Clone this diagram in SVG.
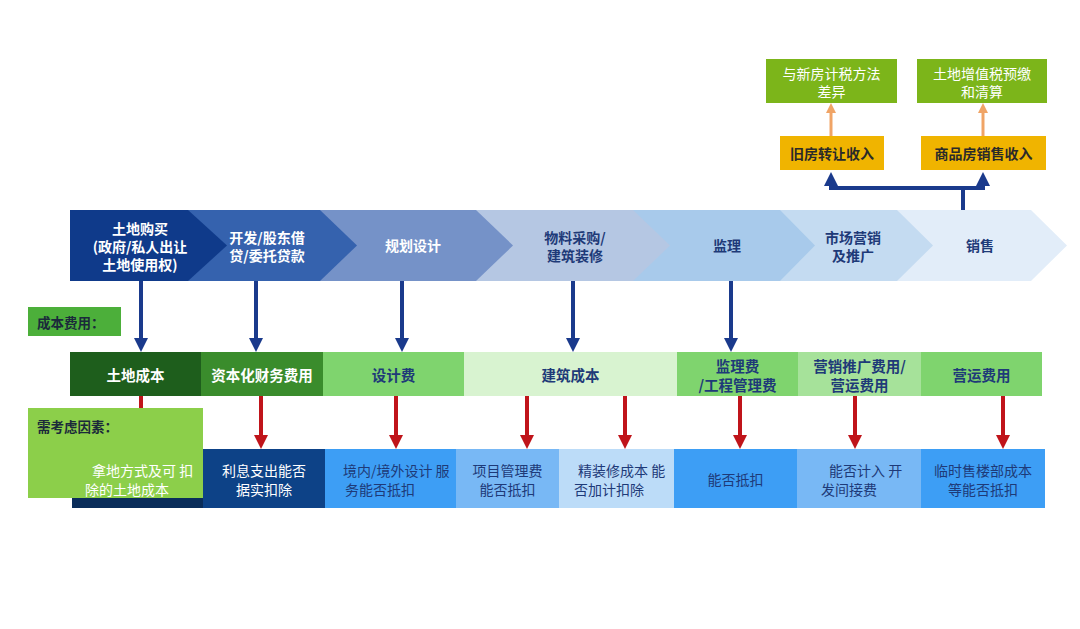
<svg xmlns="http://www.w3.org/2000/svg" width="1080" height="629" viewBox="0 0 1080 629">
<style>
text{font-family:"Noto Sans CJK SC","Noto Sans",sans-serif;}
.ch{font-size:14px;font-weight:700;text-anchor:middle;dominant-baseline:central;}
.w{fill:#ffffff;}
.n{fill:#1e3a78;}
.cost{font-size:14.5px;font-weight:700;text-anchor:middle;dominant-baseline:central;}
.bt{font-size:14px;dominant-baseline:central;}
.mid{text-anchor:middle;}
.lab{font-size:13.5px;font-weight:700;fill:#1b2a3a;dominant-baseline:central;}
.top{font-size:14px;text-anchor:middle;dominant-baseline:central;}
.blue{stroke:#1a3a8c;stroke-width:4;fill:none;}
.red{stroke:#c0141a;stroke-width:4;fill:none;}
.org{stroke:#f0a466;stroke-width:3;fill:none;}
</style>
<defs>
<marker id="ab" viewBox="0 0 14 14" refX="6" refY="7" markerWidth="14" markerHeight="14" markerUnits="userSpaceOnUse" orient="auto-start-reverse"><path d="M0,0 L14,7 L0,14 z" fill="#1a3a8c"/></marker>
<marker id="ar" viewBox="0 0 14 14" refX="6" refY="7" markerWidth="14" markerHeight="14" markerUnits="userSpaceOnUse" orient="auto"><path d="M0,0 L14,7 L0,14 z" fill="#c0141a"/></marker>
<marker id="ao" viewBox="0 0 10 10" refX="4" refY="5" markerWidth="10" markerHeight="10" markerUnits="userSpaceOnUse" orient="auto"><path d="M0,0 L10,5 L0,10 z" fill="#f0a466"/></marker>
</defs>
<rect width="1080" height="629" fill="#ffffff"/>

<g id="chevrons">
<g id="ch7"><polygon points="897,210 1031,210 1067,245.5 1031,281 897,281" fill="#e2edf9"/><text class="ch n" x="980" y="245">销售</text></g>
<g id="ch6"><polygon points="780,210 897,210 933,245.5 897,281 780,281" fill="#c4dbf1"/><text class="ch n" x="853" y="237">市场营销</text><text class="ch n" x="853" y="255">及推广</text></g>
<g id="ch5"><polygon points="633,210 780,210 815,245.5 780,281 633,281" fill="#a8caeb"/><text class="ch n" x="727" y="245">监理</text></g>
<g id="ch4"><polygon points="476,210 633,210 670,245.5 633,281 476,281" fill="#b5c7e3"/><text class="ch n" x="575" y="237">物料采购/</text><text class="ch n" x="575" y="255">建筑装修</text></g>
<g id="ch3"><polygon points="320,210 476,210 513,245.5 476,281 320,281" fill="#7592c8"/><text class="ch w" x="413" y="245">规划设计</text></g>
<g id="ch2"><polygon points="188,210 320,210 357,245.5 320,281 188,281" fill="#3562ae"/><text class="ch w" x="267" y="237">开发/股东借</text><text class="ch w" x="267" y="255">贷/委托贷款</text></g>
<g id="ch1"><polygon points="70,210 188,210 227,245.5 188,281 70,281" fill="#0f3a8a"/><text class="ch w" x="140" y="228">土地购买</text><text class="ch w" x="140" y="246">(政府/私人出让</text><text class="ch w" x="140" y="264">土地使用权)</text></g>
</g>

<g id="label-cost"><rect x="28" y="307" width="93" height="29" fill="#4caf3a"/><text class="lab" x="37" y="322">成本费用：</text></g>

<g id="cost-row">
<g id="c1"><rect x="70" y="352" width="131" height="44" fill="#1e5e1c"/><text class="cost w" x="135.5" y="374">土地成本</text></g>
<g id="c2"><rect x="201" y="352" width="122" height="44" fill="#3a8c2c"/><text class="cost w" x="262" y="374">资本化财务费用</text></g>
<g id="c3"><rect x="323" y="352" width="141" height="44" fill="#7fd46e"/><text class="cost n" x="393.5" y="374">设计费</text></g>
<g id="c4"><rect x="464" y="352" width="213" height="44" fill="#d8f3d0"/><text class="cost n" x="570.5" y="374">建筑成本</text></g>
<g id="c5"><rect x="677" y="352" width="121" height="44" fill="#7fd46e"/><text class="cost n" x="737.5" y="365">监理费</text><text class="cost n" x="737.5" y="384">/工程管理费</text></g>
<g id="c6"><rect x="798" y="352" width="123" height="44" fill="#a6e29a"/><text class="cost n" x="859.5" y="365">营销推广费用/</text><text class="cost n" x="859.5" y="384">营运费用</text></g>
<g id="c7"><rect x="921" y="352" width="121" height="44" fill="#7fd46e"/><text class="cost n" x="981.5" y="374">营运费用</text></g>
</g>

<g id="factor-row">
<g id="f1"><rect x="72" y="449" width="131" height="59" fill="#0a2d5a"/></g>
<g id="f2"><rect x="203" y="449" width="122" height="59" fill="#0d4287"/><text class="bt w mid" x="264" y="470">利息支出能否</text><text class="bt w mid" x="264" y="489">据实扣除</text></g>
<g id="f3"><rect x="325" y="449" width="131" height="59" fill="#3d9ef5"/><text class="bt n" x="343" y="470">境内/境外设计 服</text><text class="bt n" x="345" y="489">务能否抵扣</text></g>
<g id="f4"><rect x="456" y="449" width="103" height="59" fill="#78b8f5"/><text class="bt n mid" x="507.5" y="470">项目管理费</text><text class="bt n mid" x="507.5" y="489">能否抵扣</text></g>
<g id="f5"><rect x="559" y="449" width="115" height="59" fill="#bcdcf8"/><text class="bt n" x="578" y="470">精装修成本 能</text><text class="bt n" x="574" y="489">否加计扣除</text></g>
<g id="f6"><rect x="674" y="449" width="123" height="59" fill="#3d9ef5"/><text class="bt n mid" x="735.5" y="479">能否抵扣</text></g>
<g id="f7"><rect x="797" y="449" width="124" height="59" fill="#78b8f5"/><text class="bt n" x="829" y="470">能否计入 开</text><text class="bt n" x="821" y="489">发间接费</text></g>
<g id="f8"><rect x="921" y="449" width="124" height="59" fill="#3d9ef5"/><text class="bt n mid" x="983" y="470">临时售楼部成本</text><text class="bt n mid" x="983" y="489">等能否抵扣</text></g>
</g>

<g id="income">
<g id="old-income"><rect x="780" y="136" width="104" height="34" fill="#f0b400"/><text class="top" x="832" y="153" font-weight="700" fill="#2a2a2a">旧房转让收入</text></g>
<g id="new-income"><rect x="921" y="136" width="125" height="34" fill="#f0b400"/><text class="top" x="983.5" y="153" font-weight="700" fill="#2a2a2a">商品房销售收入</text></g>
<g id="tax-diff"><rect x="766" y="59" width="131" height="44" fill="#7cb51a"/><text class="top w" x="831.5" y="73">与新房计税方法</text><text class="top w" x="831.5" y="91">差异</text></g>
<g id="lat"><rect x="917" y="59" width="130" height="44" fill="#7cb51a"/><text class="top w" x="982" y="73">土地增值税预缴</text><text class="top w" x="982" y="91">和清算</text></g>
</g>

<g id="connectors">
<line class="blue" x1="141" y1="281" x2="141" y2="344" marker-end="url(#ab)"/>
<line class="blue" x1="256" y1="281" x2="256" y2="344" marker-end="url(#ab)"/>
<line class="blue" x1="402" y1="281" x2="402" y2="344" marker-end="url(#ab)"/>
<line class="blue" x1="573" y1="281" x2="573" y2="344" marker-end="url(#ab)"/>
<line class="blue" x1="731" y1="281" x2="731" y2="344" marker-end="url(#ab)"/>
<line class="red" x1="141" y1="396" x2="141" y2="441" marker-end="url(#ar)"/>
<line class="red" x1="261" y1="396" x2="261" y2="441" marker-end="url(#ar)"/>
<line class="red" x1="396" y1="396" x2="396" y2="441" marker-end="url(#ar)"/>
<line class="red" x1="527" y1="396" x2="527" y2="441" marker-end="url(#ar)"/>
<line class="red" x1="625" y1="396" x2="625" y2="441" marker-end="url(#ar)"/>
<line class="red" x1="740" y1="396" x2="740" y2="441" marker-end="url(#ar)"/>
<line class="red" x1="855" y1="396" x2="855" y2="441" marker-end="url(#ar)"/>
<line class="red" x1="1003" y1="396" x2="1003" y2="441" marker-end="url(#ar)"/>
<path class="blue" stroke-width="5" d="M963,210 V188"/>
<path class="blue" stroke-width="5" d="M831,180 V188 H983 V180" marker-start="url(#ab)" marker-end="url(#ab)"/>
<line class="org" x1="831" y1="136" x2="831" y2="109" marker-end="url(#ao)"/>
<line class="org" x1="983" y1="136" x2="983" y2="109" marker-end="url(#ao)"/>
</g>

<g id="label-factors"><rect x="28" y="408" width="175" height="90" fill="#8ccf4a"/><text class="lab" x="37" y="426">需考虑因素：</text><text class="bt w" x="92" y="470">拿地方式及可 扣</text><text class="bt w" x="85" y="489">除的土地成本</text></g>
</svg>
